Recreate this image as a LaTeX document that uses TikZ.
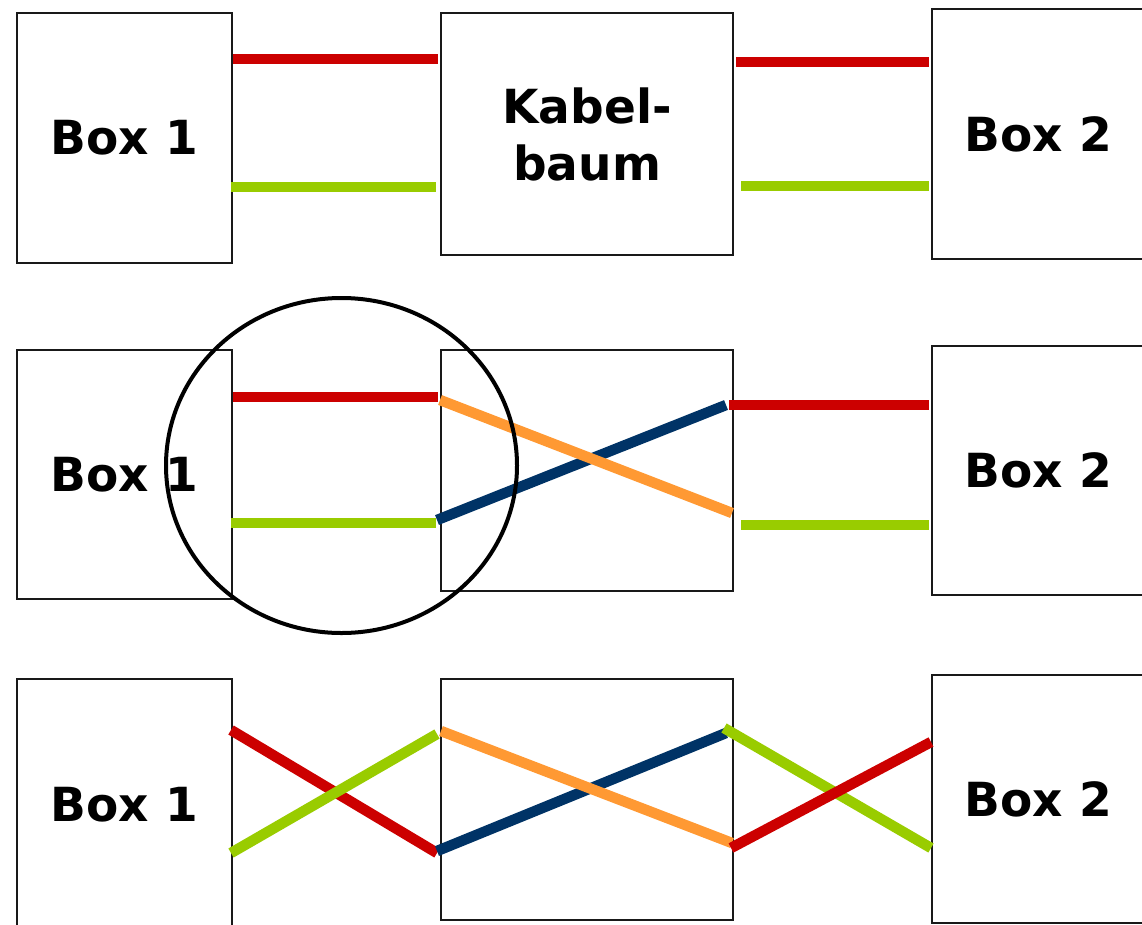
\documentclass[tikz,border=0pt]{standalone}
\usepackage{fontspec}
\setmainfont{DejaVu Sans}
\definecolor{cred}{HTML}{CC0000}
\definecolor{cgreen}{HTML}{99CC00}
\definecolor{corange}{HTML}{FF9933}
\definecolor{cblue}{HTML}{003366}
\begin{document}
\begin{tikzpicture}[x=1pt,y=-1pt,
  boxnode/.style={draw=black!90,line width=2.2pt,rectangle,inner sep=0pt,anchor=north west,
    font=\fontsize{47}{57}\selectfont\bfseries,align=center},
  wire/.style={line width=10.5pt,line cap=butt},
  ring/.style={draw=black,line width=4pt}]
\useasboundingbox (0,0) rectangle (1142,924);
\clip (0,0) rectangle (1142,924);
% row 1
\node[boxnode,minimum width=215pt,minimum height=250pt] (a1) at (16,12) {Box 1};
\node[boxnode,minimum width=292pt,minimum height=242pt] (a2) at (440,12) {Kabel-\\baum};
\node[boxnode,minimum width=212pt,minimum height=250pt] (a3) at (931,8) {Box 2};
% row 2
\node[boxnode,minimum width=215pt,minimum height=249pt] (b1) at (16,349) {Box 1};
\node[boxnode,minimum width=292pt,minimum height=241pt] (b2) at (440,349) {};
\node[boxnode,minimum width=212pt,minimum height=249pt] (b3) at (931,345) {Box 2};
% row 3
\node[boxnode,minimum width=215pt,minimum height=252pt] (c1) at (16,678) {Box 1};
\node[boxnode,minimum width=292pt,minimum height=241pt] (c2) at (440,678) {};
\node[boxnode,minimum width=212pt,minimum height=248pt] (c3) at (931,674) {Box 2};
% wire end points
\coordinate (p1) at (233,59);  \coordinate (p2) at (438,59);
\coordinate (p3) at (231,187); \coordinate (p4) at (436,187);
\coordinate (p5) at (736,62);  \coordinate (p6) at (929,62);
\coordinate (p7) at (741,186); \coordinate (p8) at (929,186);
\coordinate (q1) at (233,397); \coordinate (q2) at (438,397);
\coordinate (q3) at (231,523); \coordinate (q4) at (436,523);
\coordinate (q5) at (440,400); \coordinate (q6) at (732,513);
\coordinate (q7) at (437,520); \coordinate (q8) at (726,405);
\coordinate (q9) at (729,405); \coordinate (q10) at (929,405);
\coordinate (q11) at (741,525); \coordinate (q12) at (929,525);
\coordinate (r1) at (231,730); \coordinate (r2) at (437,853);
\coordinate (r3) at (231,853); \coordinate (r4) at (437,734);
\coordinate (r5) at (441,731); \coordinate (r6) at (732,843);
\coordinate (r7) at (437,851); \coordinate (r8) at (726,733);
\coordinate (r9) at (724,728); \coordinate (r10) at (931,848);
\coordinate (r11) at (731,848); \coordinate (r12) at (931,742);
% row 1 wires
\draw[wire,cred] (p1) -- (p2);
\draw[wire,cgreen] (p3) -- (p4);
\draw[wire,cred] (p5) -- (p6);
\draw[wire,cgreen] (p7) -- (p8);
% row 2 wires
\draw[wire,cred] (q1) -- (q2);
\draw[wire,cgreen] (q3) -- (q4);
\draw[wire,cblue] (q7) -- (q8);
\draw[wire,corange] (q5) -- (q6);
\draw[wire,cred] (q9) -- (q10);
\draw[wire,cgreen] (q11) -- (q12);
% row 3 wires
\draw[wire,cred] (r1) -- (r2);
\draw[wire,cgreen] (r3) -- (r4);
\draw[wire,cblue] (r7) -- (r8);
\draw[wire,corange] (r5) -- (r6);
\draw[wire,cgreen] (r9) -- (r10);
\draw[wire,cred] (r11) -- (r12);
% highlight ring
\draw[ring] (341.5,465.5) ellipse [x radius=175.5pt, y radius=167.5pt];
\end{tikzpicture}
\end{document}
